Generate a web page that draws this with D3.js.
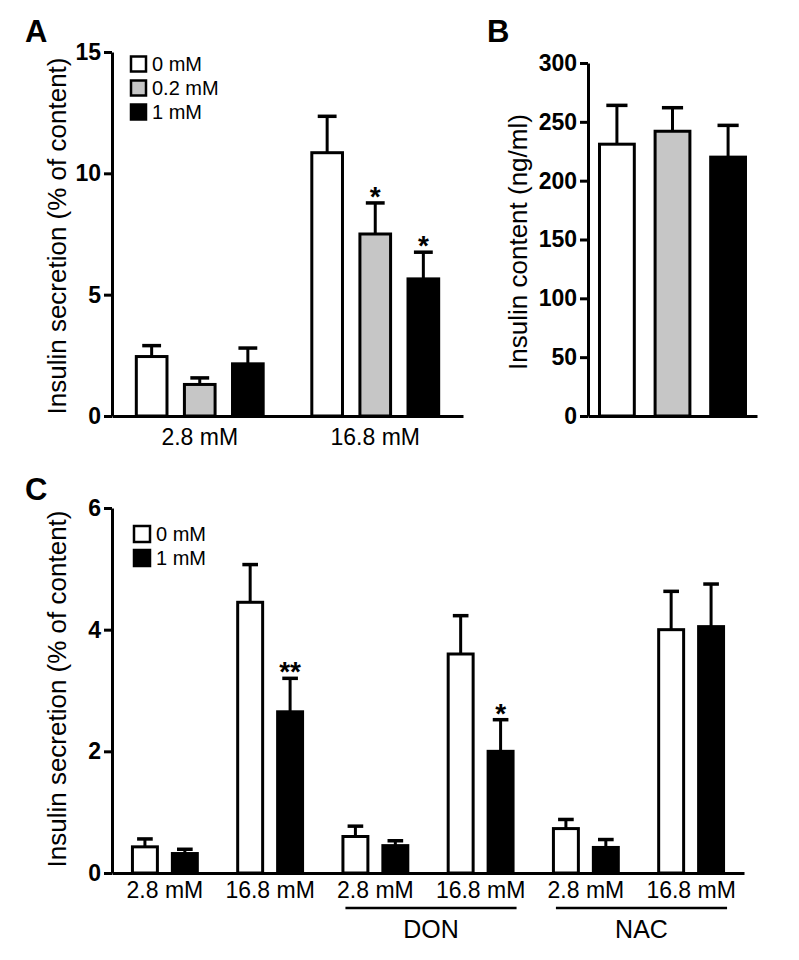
<!DOCTYPE html>
<html><head><meta charset="utf-8">
<script src="https://cdn.jsdelivr.net/npm/d3@7"></script>
<style>
body{margin:0;background:#fff;}
svg{display:block;}
text{font-family:"Liberation Sans",Arial,Helvetica,sans-serif;fill:#000;}
</style></head>
<body>
<svg id="chart" width="799" height="960"></svg>
<script>
// ---------- data ----------
const groupsA = ["2.8 mM", "16.8 mM"];
const seriesA = ["0 mM", "0.2 mM", "1 mM"];
const meansA = [[2.45, 1.3, 2.15], [10.85, 7.5, 5.65]];
const errA = [[0.45, 0.27, 0.65], [1.5, 1.28, 1.1]];
const sigA = [["", "", ""], ["", "*", "*"]];
const ticksA = [0, 5, 10, 15];

const seriesB = ["0 mM", "0.2 mM", "1 mM"];
const meansB = [231, 242, 220];
const errB = [33, 20, 27];
const ticksB = [0, 50, 100, 150, 200, 250, 300];

const groupsC = ["2.8 mM", "16.8 mM", "2.8 mM", "16.8 mM", "2.8 mM", "16.8 mM"];
const seriesC = ["0 mM", "1 mM"];
const meansC = [[0.43, 0.32], [4.45, 2.65], [0.6, 0.45], [3.6, 2.0], [0.73, 0.42], [4.0, 4.05]];
const errC = [[0.13, 0.07], [0.62, 0.55], [0.17, 0.08], [0.63, 0.52], [0.15, 0.13], [0.63, 0.7]];
const sigC = [["", ""], ["", "**"], ["", ""], ["", "*"], ["", ""], ["", ""]];
const ticksC = [0, 2, 4, 6];
const treatmentLabels = ["DON", "NAC"];
const treatmentGroups = [[2, 3], [4, 5]];

const fillsAB = ["#ffffff", "#c6c6c6", "#000000"];
const fillsC = ["#ffffff", "#000000"];

const svg = d3.select("#chart");
const SW = 3;

function yAxis(g, y, ticks, x) {
  const ax = g.append("g").attr("transform", `translate(${x},0)`)
    .call(d3.axisLeft(y).tickValues(ticks).tickFormat(d3.format("d"))
      .tickSize(8).tickSizeOuter(0).tickPadding(3));
  ax.select(".domain").attr("stroke", "#000").attr("stroke-width", SW);
  ax.selectAll(".tick line").attr("stroke", "#000").attr("stroke-width", SW);
  ax.selectAll(".tick text").attr("font-size", 23).attr("font-weight", "bold")
    .attr("font-family", '"Liberation Sans",Arial,sans-serif').attr("fill", "#000");
  return ax;
}

function xAxis(g, x, y0, fmt, pad) {
  const ax = g.append("g").attr("transform", `translate(0,${y0})`)
    .call(d3.axisBottom(x).tickSize(0).tickSizeOuter(0).tickPadding(pad).tickFormat(fmt));
  ax.select(".domain").attr("stroke", "#000").attr("stroke-width", SW);
  ax.selectAll(".tick text").attr("font-size", 23)
    .attr("font-family", '"Liberation Sans",Arial,sans-serif').attr("fill", "#000");
  return ax;
}

function bars(g, items, y) {
  // items: {x, w, v, e, fill, sig}
  const sel = g.selectAll(null).data(items).enter().append("g");
  sel.append("line")
    .attr("x1", d => d.x + d.w / 2).attr("x2", d => d.x + d.w / 2)
    .attr("y1", d => y(d.v)).attr("y2", d => y(d.v + d.e))
    .attr("stroke", "#000").attr("stroke-width", SW);
  sel.append("line")
    .attr("x1", d => d.x + d.w / 2 - d.w * 0.28).attr("x2", d => d.x + d.w / 2 + d.w * 0.28)
    .attr("y1", d => y(d.v + d.e)).attr("y2", d => y(d.v + d.e))
    .attr("stroke", "#000").attr("stroke-width", SW + 0.5);
  sel.append("rect")
    .attr("x", d => d.x + SW / 2).attr("width", d => d.w - SW)
    .attr("y", d => y(d.v)).attr("height", d => y(0) - y(d.v))
    .attr("fill", d => d.fill).attr("stroke", "#000").attr("stroke-width", SW);
  sel.filter(d => d.sig).append("text")
    .attr("x", d => d.x + d.w / 2).attr("y", d => y(d.v + d.e) + 3)
    .attr("text-anchor", "middle").attr("font-size", 28).attr("font-weight", "bold")
    .text(d => d.sig);
}

function legend(g, x, y, labels, fills, size, gap) {
  labels.forEach((l, i) => {
    const cy = y + i * gap;
    g.append("rect").attr("x", x + 1).attr("y", cy - size / 2 + 1)
      .attr("width", size - 2).attr("height", size - 2)
      .attr("fill", fills[i]).attr("stroke", "#000").attr("stroke-width", 2.5);
    g.append("text").attr("x", x + size + 5).attr("y", cy + 7)
      .attr("font-size", 20).text(l);
  });
}

function yTitle(g, text, x, cy) {
  g.append("text").attr("transform", `translate(${x},${cy}) rotate(-90)`)
    .attr("text-anchor", "middle").attr("font-size", 26).text(text);
}

function panelLabel(g, t, x, y) {
  g.append("text").attr("x", x).attr("y", y).attr("font-size", 31)
    .attr("font-weight", "bold").text(t);
}

// ---------- Panel A ----------
{
  const g = svg.append("g");
  const y = d3.scaleLinear().domain([0, 15]).range([416, 52]);
  const x0 = d3.scaleBand().domain(groupsA).range([112, 463]).paddingInner(0.26).paddingOuter(0.13);
  const x1 = d3.scaleBand().domain(seriesA).range([0, x0.bandwidth()]).paddingInner(0.3).paddingOuter(0);
  const items = [];
  groupsA.forEach((gr, gi) => seriesA.forEach((s, si) => items.push({
    x: x0(gr) + x1(s), w: x1.bandwidth(), v: meansA[gi][si], e: errA[gi][si],
    fill: fillsAB[si], sig: sigA[gi][si]
  })));
  bars(g, items, y);
  xAxis(g, x0, y(0), d => d, 13);
  yAxis(g, y, ticksA, 112);
  yTitle(g, "Insulin secretion (% of content)", 66, 236);
  legend(g, 130, 64, seriesA, fillsAB, 17, 24);
  panelLabel(g, "A", 25, 42);
}

// ---------- Panel B ----------
{
  const g = svg.append("g");
  const y = d3.scaleLinear().domain([0, 300]).range([416, 63]);
  const x = d3.scaleBand().domain(seriesB).range([588, 757]).paddingInner(0.32).paddingOuter(0.18);
  const items = seriesB.map((s, i) => ({ x: x(s), w: x.bandwidth(), v: meansB[i], e: errB[i], fill: fillsAB[i], sig: "" }));
  bars(g, items, y);
  xAxis(g, x, y(0), () => "", 10);
  yAxis(g, y, ticksB, 588);
  yTitle(g, "Insulin content (ng/ml)", 527, 242);
  panelLabel(g, "B", 487, 42);
}

// ---------- Panel C ----------
{
  const g = svg.append("g");
  const y = d3.scaleLinear().domain([0, 6]).range([873, 508]);
  const idx = d3.range(groupsC.length);
  const x0 = d3.scaleBand().domain(idx).range([112, 744]).paddingInner(0.355).paddingOuter(0.18);
  const x1 = d3.scaleBand().domain(seriesC).range([0, x0.bandwidth()]).paddingInner(0.3).paddingOuter(0);
  const items = [];
  idx.forEach(gi => seriesC.forEach((s, si) => items.push({
    x: x0(gi) + x1(s), w: x1.bandwidth(), v: meansC[gi][si], e: errC[gi][si],
    fill: fillsC[si], sig: sigC[gi][si]
  })));
  bars(g, items, y);
  xAxis(g, x0, y(0), i => groupsC[i], 9);
  yAxis(g, y, ticksC, 112);
  yTitle(g, "Insulin secretion (% of content)", 66, 689);
  legend(g, 133, 534, seriesC, fillsC, 18, 24);
  panelLabel(g, "C", 25, 500);
  treatmentLabels.forEach((t, i) => {
    const [a, b] = treatmentGroups[i];
    const xs = x0(a) + 4, xe = x0(b) + x0.bandwidth() + 2;
    g.append("line").attr("x1", xs).attr("x2", xe).attr("y1", 908).attr("y2", 908)
      .attr("stroke", "#000").attr("stroke-width", 2.5);
    g.append("text").attr("x", (xs + xe) / 2).attr("y", 938).attr("text-anchor", "middle")
      .attr("font-size", 25).text(t);
  });
}
</script>
</body></html>
